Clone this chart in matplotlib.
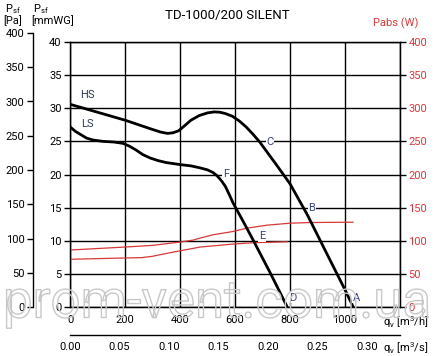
import matplotlib
matplotlib.use("Agg")
import matplotlib.pyplot as plt
import matplotlib.patheffects as pe

plt.rcParams['font.family'] = ['Roboto', 'DejaVu Sans']
plt.rcParams['mathtext.default'] = 'regular'

# ---- data (flow in m3/h, pressure in mmWG, power in W) ----
hs_q = [0, 50, 100, 150, 200, 250, 300, 330, 355, 375, 395, 415, 440, 470, 500, 525, 545,
        565, 590, 615, 640, 665, 690, 720, 750, 800, 862, 920, 1000, 1030]
hs_p = [30.6, 30.0, 29.4, 28.8, 28.2, 27.5, 26.8, 26.4, 26.2, 26.3, 26.6, 27.3, 28.2, 28.9,
        29.3, 29.45, 29.4, 29.2, 28.8, 28.1, 27.2, 26.1, 24.9, 23.2, 21.5, 18.6, 14.0, 9.2, 2.6, 0]
ls_q = [0, 20, 40, 60, 84, 120, 160, 193, 215, 240, 265, 291, 320, 350, 400, 440, 473, 500,
        520, 535, 550, 565, 580, 593, 630, 666, 730, 790]
ls_p = [27.2, 26.5, 26.0, 25.5, 25.2, 25.0, 24.9, 24.7, 24.3, 23.7, 23.0, 22.5, 22.1, 21.8,
        21.5, 21.3, 21.0, 20.7, 20.3, 19.8, 19.1, 18.2, 16.9, 15.7, 12.9, 10.1, 5.0, 0]
hs_w_q = [0, 200, 300, 400, 448, 473, 520, 593, 643, 716, 800, 873, 1029]
hs_w = [86, 90.5, 93, 98, 101, 104, 109, 114, 119, 123.5, 126.5, 127.5, 128]
ls_w_q = [0, 200, 260, 300, 364, 448, 473, 593, 666, 789]
ls_w = [72, 74, 74.5, 76.5, 82, 88.5, 90.5, 95, 97, 98.5]

point_labels = ['HS', 'LS', 'C', 'F', 'B', 'E', 'D', 'A']
point_q = [65, 65, 727, 567, 880, 698, 811, 1040]
point_p = [32.0, 27.6, 24.9, 20.1, 14.9, 10.7, 1.4, 1.4]

x_ticks = [0, 200, 400, 600, 800, 1000]
xs_ticks = [0.00, 0.05, 0.10, 0.15, 0.20, 0.25, 0.30]
mm_ticks = list(range(0, 45, 5))
pa_ticks = list(range(0, 450, 50))
w_ticks = list(range(0, 450, 50))

RED = '#d8383a'
NAVY = '#3a3f86'
W, H = 436, 356

fig = plt.figure(figsize=(W / 100, H / 100), dpi=100)
L, R, T, B = 70, 400, 42, 307
ax = fig.add_axes([L / W, 1 - B / H, (R - L) / W, (B - T) / H])
ax.set_xlim(0, 1200)
ax.set_ylim(0, 40)
ax.set_xticks(range(0, 1400, 200))
ax.set_xticklabels([str(v) for v in x_ticks] + [''])
ax.set_yticks(mm_ticks)
ax.set_yticklabels([str(v) for v in mm_ticks])
ax.grid(True, color='black', linewidth=1.0)
ax.tick_params(axis='x', length=0, pad=6, labelsize=8)
ax.tick_params(axis='y', length=4, width=1, pad=2, labelsize=8, colors='black')
for s in ax.spines.values():
    s.set_linewidth(1.0)

ax.plot(hs_w_q, [v / 10 for v in hs_w], color=RED, lw=0.9, zorder=3)
ax.plot(ls_w_q, [v / 10 for v in ls_w], color=RED, lw=0.9, zorder=3)
ax.plot(hs_q, hs_p, color='black', lw=2.0, zorder=4, solid_joinstyle='round')
ax.plot(ls_q, ls_p, color='black', lw=2.0, zorder=4, solid_joinstyle='round')

for lab, q, p in zip(point_labels, point_q, point_p):
    col = '#2c3a55' if lab in ('HS', 'LS') else NAVY
    ax.text(q, p, lab, color=col, fontsize=8, ha='center', va='center', zorder=5,
            bbox=dict(facecolor='white', edgecolor='none', pad=0.5) if lab not in ('HS', 'LS') else None)

# right power axis
ax2 = ax.twinx()
ax2.set_ylim(0, 400)
ax2.set_yticks(w_ticks)
ax2.set_yticklabels([str(v) for v in w_ticks])
ax2.tick_params(axis='y', length=4, width=1, pad=2, labelsize=8, labelcolor=RED, color='black')

# secondary m3/s axis
sec = ax.secondary_xaxis(-0.105, functions=(lambda q: q / 3600, lambda s: s * 3600))
sec.set_xticks(xs_ticks)
sec.set_xticklabels([f'{v:.2f}' for v in xs_ticks])
sec.tick_params(length=0, pad=5, labelsize=8)
sec.spines['bottom'].set_linewidth(1.0)

# Pa axis
pa_top = 33
axp = fig.add_axes([33 / W, 1 - B / H, 0.0001, (B - pa_top) / H])
axp.set_ylim(0, 400)
axp.set_yticks(pa_ticks)
axp.set_yticklabels([str(v) for v in pa_ticks])
axp.set_xticks([])
for k in ('top', 'right', 'bottom'):
    axp.spines[k].set_visible(False)
axp.spines['left'].set_linewidth(1.0)
axp.tick_params(axis='y', length=4, width=1, pad=2, labelsize=8)
axp.patch.set_visible(False)

# headers and titles
fig.text(227 / W, 1 - 15 / H, 'TD-1000/200 SILENT', ha='center', va='center', fontsize=9.5)
fig.text(5 / W, 1 - 9 / H, '$P_{sf}$', ha='left', va='center', fontsize=8)
fig.text(3 / W, 1 - 21 / H, '[Pa]', ha='left', va='center', fontsize=8)
fig.text(33 / W, 1 - 9 / H, '$P_{sf}$', ha='left', va='center', fontsize=8)
fig.text(31 / W, 1 - 21 / H, '[mmWG]', ha='left', va='center', fontsize=8)
fig.text(418 / W, 1 - 23 / H, 'Pabs (W)', ha='right', va='center', fontsize=8, color=RED)
fig.text(383 / W, 1 - 322 / H, '$q_v$ [m$^3$/h]', ha='left', va='center', fontsize=8)
fig.text(383 / W, 1 - 348 / H, '$q_v$ [m$^3$/s]', ha='left', va='center', fontsize=8)

# watermark
fig.text(217 / W, 1 - 303 / H, 'prom-vent.com.ua', ha='center', va='center', fontsize=38,
         color='none', zorder=10,
         path_effects=[pe.Stroke(linewidth=1.0, foreground='#c8c8c8'), pe.Normal()])

fig.savefig('out.png', dpi=100)
